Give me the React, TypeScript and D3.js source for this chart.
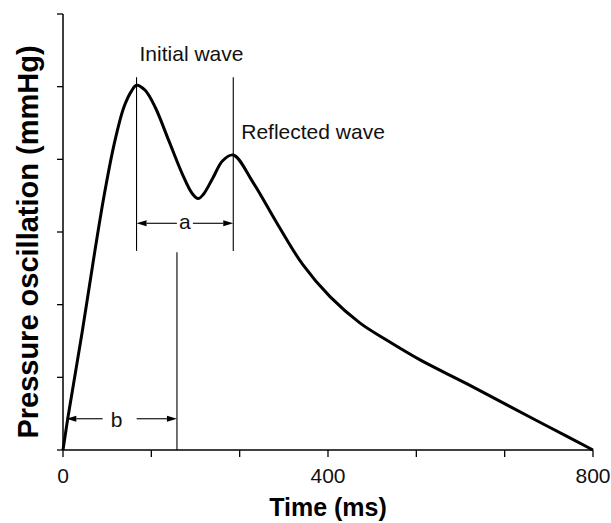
import { scaleLinear, line, curveCatmullRom, range } from 'd3'

const width = 611
const height = 523

const margin = { top: 14, right: 18, bottom: 73, left: 63 }

// pulse wave
const timeMs = [0, 7.5, 28.7, 48.3, 62, 77, 92, 104, 111, 124, 139, 160, 180, 195, 204, 212, 226, 241, 257, 287, 323, 362, 403, 448, 489, 539, 610, 670, 735, 800]
const pressure = [0, 0.45, 1.61, 2.75, 3.5, 4.2, 4.72, 4.95, 5.02, 4.95, 4.72, 4.25, 3.8, 3.53, 3.46, 3.52, 3.74, 3.98, 4.06, 3.68, 3.12, 2.55, 2.11, 1.75, 1.51, 1.24, 0.91, 0.62, 0.31, 0]

const xTicks = range(0, 801, 800 / 6)
const xTickLabels = [0, 400, 800]
const yTicks = [0, 1, 2, 3, 4, 5, 6]

// annotation "a": between the two peaks
const peakTimes = [111, 257]
const peakLineTop = 5.13
const peakLineBottom = 2.74
const aLevel = 3.12
// annotation "b"
const bTime = 172
const bLineTop = 2.72
const bLevel = 0.43
const bStart = 5
const bLabelTime = 81

const font = 'Liberation Sans, Arial, Helvetica, sans-serif'

function Arrow({ x1, x2, y, gapFrom, gapTo }: { x1: number, x2: number, y: number, gapFrom: number, gapTo: number }) {
  const head = 10
  const half = 3
  return (
    <g>
      <line x1={x1 + head} x2={gapFrom} y1={y} y2={y} stroke="#000" strokeWidth={1.1} />
      <line x1={gapTo} x2={x2 - head} y1={y} y2={y} stroke="#000" strokeWidth={1.1} />
      <path d={`M${x1},${y}L${x1 + head},${y - half}L${x1 + head},${y + half}Z`} fill="#000" />
      <path d={`M${x2},${y}L${x2 - head},${y - half}L${x2 - head},${y + half}Z`} fill="#000" />
    </g>
  )
}

function App() {
  const innerWidth = width - margin.left - margin.right
  const innerHeight = height - margin.top - margin.bottom

  const xScale = scaleLinear().domain([0, 800]).range([0, innerWidth])
  const yScale = scaleLinear().domain([0, 6]).range([innerHeight, 0])

  const points = timeMs.map((t, i) => [t, pressure[i]] as [number, number])
  const pulse = line<[number, number]>()
    .x(d => xScale(d[0]))
    .y(d => yScale(d[1]))
    .curve(curveCatmullRom.alpha(0.5))

  const ax1 = xScale(peakTimes[0])
  const ax2 = xScale(peakTimes[1])
  const aMid = (ax1 + ax2) / 2
  const bx1 = xScale(bStart)
  const bx2 = xScale(bTime)
  const bMid = xScale(bLabelTime)

  return (
    <svg width={width} height={height} style={{ position: 'absolute', left: 0, top: 0, background: '#fff' }}>
      <g transform={`translate(${margin.left},${margin.top})`}>
        {/* axes */}
        <line x1={0} x2={0} y1={0} y2={innerHeight} stroke="#000" strokeWidth={1.5} />
        <line x1={0} x2={innerWidth} y1={innerHeight} y2={innerHeight} stroke="#000" strokeWidth={1.5} />
        {yTicks.map(v => (
          <line key={v} x1={-6} x2={0} y1={yScale(v)} y2={yScale(v)} stroke="#000" strokeWidth={1.3} />
        ))}
        {xTicks.map(v => (
          <line key={v} x1={xScale(v)} x2={xScale(v)} y1={innerHeight} y2={innerHeight + 7} stroke="#000" strokeWidth={1.3} />
        ))}
        {xTickLabels.map(v => (
          <text key={v} x={xScale(v)} y={innerHeight + 33} textAnchor="middle" fontFamily={font} fontSize={21} fill="#111">{v}</text>
        ))}

        {/* annotation lines */}
        {peakTimes.map(t => (
          <line key={t} x1={xScale(t)} x2={xScale(t)} y1={yScale(peakLineTop)} y2={yScale(peakLineBottom)} stroke="#000" strokeWidth={1.1} />
        ))}
        <line x1={bx2} x2={bx2} y1={yScale(bLineTop)} y2={innerHeight} stroke="#000" strokeWidth={1.1} />
        <Arrow x1={ax1} x2={ax2} y={yScale(aLevel)} gapFrom={aMid - 8} gapTo={aMid + 8} />
        <text x={aMid} y={yScale(aLevel) + 6} textAnchor="middle" fontFamily={font} fontSize={21} fill="#111">a</text>
        <Arrow x1={bx1} x2={bx2} y={yScale(bLevel)} gapFrom={bMid - 14} gapTo={bMid + 20} />
        <text x={bMid} y={yScale(bLevel) + 8} textAnchor="middle" fontFamily={font} fontSize={21} fill="#111">b</text>

        <path d={pulse(points) ?? ''} fill="none" stroke="#000" strokeWidth={3} strokeLinejoin="round" />

        <text x={xScale(111) + 3} y={47} fontFamily={font} fontSize={21} fill="#111">Initial wave</text>
        <text x={xScale(257) + 8} y={125} fontFamily={font} fontSize={21} fill="#111">Reflected wave</text>
      </g>

      <text x={margin.left + innerWidth / 2} y={516} textAnchor="middle" fontFamily={font} fontSize={25} fontWeight="bold" fill="#000">Time (ms)</text>
      <text transform={`translate(38,242) rotate(-90)`} textAnchor="middle" fontFamily={font} fontSize={29} fontWeight="bold" fill="#000">Pressure oscillation (mmHg)</text>
    </svg>
  )
}

export default App
